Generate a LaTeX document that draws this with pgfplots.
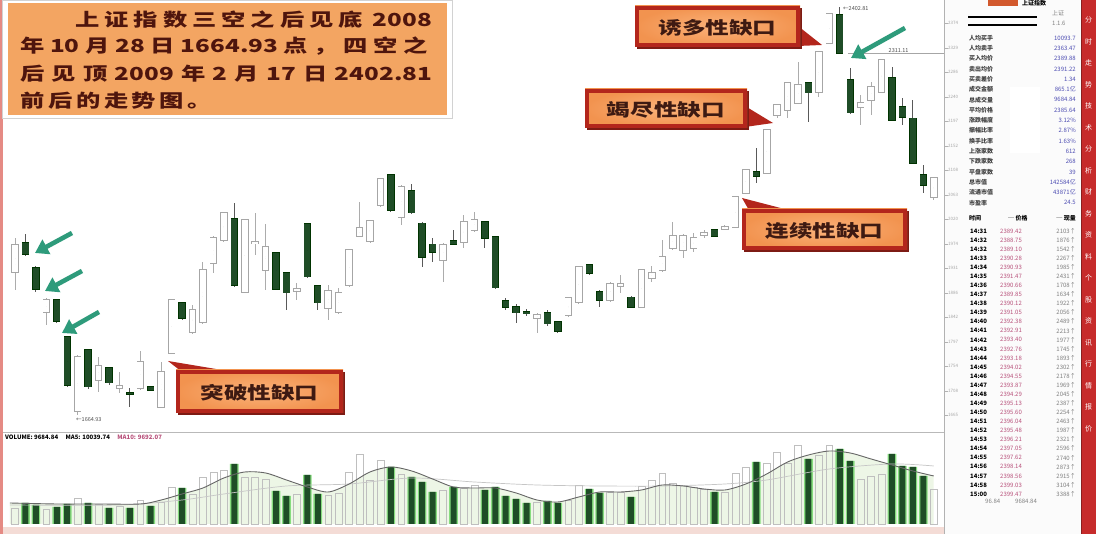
\documentclass[border=0pt]{standalone}
\usepackage{pgfplots}
\pgfplotsset{compat=1.18}
\usepackage{pgfplotstable}
\usepackage{fontspec}
\usepackage{graphicx}
\usetikzlibrary{arrows.meta}
\setmainfont{Liberation Sans}
\newfontfamily\cjk{Noto Sans CJK SC}
\newfontfamily\cjkwide{Noto Sans CJK SC}[FakeStretch=1.35]

\definecolor{boxorange}{HTML}{F3A562}
\definecolor{boxtext}{HTML}{4E150D}
\definecolor{callin}{HTML}{FBB27A}
\definecolor{callout}{HTML}{F2934F}
\definecolor{callborder}{HTML}{B3261C}
\definecolor{calltext}{HTML}{3E1A12}
\definecolor{dkgreen}{HTML}{1F4D27}
\definecolor{arrowgreen}{HTML}{2E9B7B}
\definecolor{volglow}{HTML}{86DD7E}
\definecolor{volpale}{HTML}{EDF6E6}
\definecolor{panelred}{HTML}{C62B2B}
\definecolor{pinkstrip}{HTML}{F4DCD6}
\definecolor{leftred}{HTML}{E58A84}
\definecolor{pricepink}{HTML}{B8507A}

% daily candles: x = trading day index, o h l c = open high low close
\pgfplotstableread{
x o h l c
0 1924 1985 1891 1973
3 1851 1877 1828 1873
6 1672 1773 1664.93 1770
8 1728 1770 1707 1754
10 1714 1743 1705 1717
12 1714 1781 1710 1761
14 1679 1761 1678 1743
15 1777 1875 1775 1873
17 1815 1864 1812 1855
18 1833 1942 1830 1927
19 1940 1989 1922 1985
20 1982 2032 1978 2031
22 1888 2020 1886 2018
23 1976 2031 1954 1978
24 1927 2011 1891 1969
27 1889 1904 1873 1893
30 1859 1900 1837 1889
31 1851 1895 1848 1886
32 1900 1965 1897 1964
33 1989 2050 1987 2003
34 1980 2018 1976 2016
35 2045 2094 2041 2092
37 2023 2081 2009 2078
41 1945 1976 1906 1973
43 1978 2027 1967 2014
44 2000 2032 1996 2018
50 1840 1850 1813 1846
53 1846 1878 1842 1877
54 1869 1935 1866 1933
57 1873 1906 1869 1902
58 1898 1918 1886 1902
60 1860 1929 1859 1927
61 1913 1935 1906 1922
62 1927 1982 1924 1951
63 1967 2014 1964 1989
64 1964 1992 1949 1989
65 1967 1994 1960 1985
66 1991 2000 1985 1994
68 2002 2009 2000 2005
69 2005 2061 2003 2059
70 2067 2110 2065 2108
72 2103 2183 2101 2181
73 2208 2228 2202 2226
74 2217 2268 2202 2266
75 2230 2304 2228 2262
77 2249 2324 2240 2322
78 2338 2393 2336 2391
81 2222 2244 2190 2230
82 2235 2268 2208 2259
83 2249 2309 2248 2307
88 2059 2096 2054 2094
}\upcandles

\pgfplotstableread{
x o h l c
1 1976 1992 1953 1956
2 1931 1935 1888 1893
4 1873 1875 1831 1835
5 1806 1808 1716 1719
7 1783 1784 1712 1716
9 1750 1752 1719 1723
11 1705 1714 1679 1703
13 1716 1717 1708 1710
16 1868 1869 1837 1840
21 2020 2049 1897 1900
25 1958 1960 1891 1893
26 1922 1924 1855 1886
28 2011 2012 1913 1915
29 1898 1900 1855 1868
36 2099 2101 2032 2036
38 2070 2083 2029 2031
39 2012 2014 1933 1951
40 1974 1985 1942 1960
42 1980 2000 1973 1974
45 2014 2016 1967 1985
46 1987 1989 1893 1895
47 1871 1877 1855 1860
48 1860 1866 1831 1850
49 1851 1857 1844 1848
51 1850 1855 1826 1830
52 1833 1835 1813 1817
55 1936 1938 1918 1922
56 1888 1891 1860 1873
59 1878 1880 1859 1860
67 2000 2002 1987 1989
71 2105 2148 2085 2097
76 2266 2268 2195 2248
79 2389 2402.81 2318 2320
80 2271 2293 2210 2212
84 2275 2295 2197 2199
85 2222 2239 2190 2204
86 2202 2235 2119 2121
87 2099 2117 2067 2081
}\dncandles

\pgfplotstableread{
x v
0 16
3 15
6 26
8 20
10 18
12 24
14 22
15 37
17 30
18 47
19 52
20 54
22 47
23 47
24 45
27 30
30 29
31 31
32 52
33 70
34 44
35 64
37 50
41 34
43 36
44 39
50 22
53 24
54 39
57 32
58 32
60 38
61 44
62 51
63 41
64 39
65 37
66 35
68 32
69 51
70 57
72 61
73 72
74 61
75 79
77 69
78 79
81 45
82 48
83 50
88 35
}\upvol

\pgfplotstableread{
x v
1 21
2 19
4 17
5 20
7 21
9 16
11 16
13 18
16 36
21 60
25 33
26 28
28 49
29 30
36 57
38 47
39 42
40 32
42 37
45 34
46 37
47 28
48 25
49 21
51 23
52 21
55 35
56 31
59 27
67 32
71 62
76 65
79 75
80 63
84 70
85 58
86 57
87 48
}\dnvol

\pgfplotstableread{
x v
-0.5 21
4 20
8 20
12 20
14 24
16 30
18 36
20 46
22 52
24 51
26 44
28 37
30 32
32 40
34 52
36 57
38 53
40 45
42 37
44 36
46 36
48 31
50 24
52 22
54 27
56 32
58 32
60 34
62 39
64 38
66 35
68 34
70 40
72 50
74 62
76 69
78 73
80 71
82 65
84 59
86 53
88 48
}\mafive

\pgfplotstableread{
x v
-0.5 19
10 19
16 24
20 30
26 38
32 40
38 46
44 42
50 39
56 38
62 38
68 40
72 44
78 55
84 60
88 58
}\maten

\newcommand{\tinyf}{\cjk\fontsize{6}{7}\selectfont}
\newcommand{\boxf}{\cjkwide\bfseries\fontsize{18}{19}\selectfont}
\newcommand{\callf}{\cjkwide\bfseries\fontsize{17.5}{18}\selectfont}

\pgfplotsset{candle/.style={only marks, mark=*, mark size=0pt, mark options={draw=none, fill=none},
  error bars/.cd, y dir=both, y explicit, error mark=none}}

\begin{document}
\begin{tikzpicture}
\useasboundingbox (0pt,0pt) rectangle (1096pt,534pt);
\fill[white] (0pt,0pt) rectangle (1096pt,534pt);

% ---------- background decorations (image coordinates) ----------
\begin{scope}[x=1pt,y=-1pt,yshift=534pt]
  \fill[pinkstrip] (0,527) rectangle (966,534);
  \fill[leftred] (0,0) rectangle (3,534);
  \fill[gray!3] (944,0) rectangle (1081,534);
  \fill[white] (1010,87) rectangle (1040,153);
  \draw[gray!60, line width=0.6pt] (944,0) -- (944,534);
  \draw[gray!55, line width=0.8pt] (3,432) -- (944,432);
  % right-axis ticks
  \foreach \yy/\t in {23/2374,48/2329,72/2286,97/2240,121/2197,146/2152,170/2108,195/2063,219/2020,244/1974,268/1931,293/1886,317/1842,342/1797,366/1754,391/1708,415/1665}{
    \draw[gray!60] (944,\yy) -- (948,\yy);
    \node[anchor=west, inner sep=0, text=gray!70] at (948,\yy) {\tinyf\fontsize{4.5}{5}\selectfont \t};
  }
  % red side strip
  \fill[panelred] (1081,0) rectangle (1096,534);
  \draw[panelred!70!black, line width=0.8pt] (1081,0) -- (1081,534);
  \foreach \ch [count=\k from 0] in {分,时,走,势,技,术,分,析,财,务,资,料,个,股,资,讯,行,情,报,价}{
    \node[text=white, inner sep=0] at (1088.5,{20+\k*21.5}) {\tinyf\fontsize{7}{8}\selectfont \ch};
  }
  % panel header
  \fill[brown!70!red] (988,0) rectangle (1018,6);
  \node[anchor=west, inner sep=0] at (1022,3.5) {\tinyf\bfseries 上证指数};
  \draw[black, line width=1.6pt] (968,17) -- (1037,17);
  \draw[black, line width=1.6pt] (968,25) -- (1037,25);
  \node[anchor=west, inner sep=0, text=gray] at (1052,13) {\tinyf 上证};
  \node[anchor=west, inner sep=0, text=gray] at (1052,23) {\tinyf 1.1.6};
  % upper list
  \foreach \lab/\val [count=\k from 0] in {人均买手/10093.7,人均卖手/2363.47,买入均价/2389.88,卖出均价/2391.22,买卖差价/1.34,成交金额/865.1亿,总成交量/9684.84,平均价格/2385.64,涨跌幅度/3.12\%,振幅比率/2.87\%,换手比率/1.63\%,上涨家数/612,下跌家数/268,平盘家数/39,总市值/142584亿,流通市值/43871亿,市盈率/24.5}{
    \node[anchor=west, inner sep=0, text=black!75] at (969,{38+\k*10.3}) {\tinyf\bfseries \lab};
    \node[anchor=east, inner sep=0, text=blue!40!gray] at (1076,{38+\k*10.3}) {\tinyf \val};
  }
  \node[anchor=west, inner sep=0] at (969,218) {\tinyf\bfseries 时间};
  \node[anchor=west, inner sep=0] at (1008,218) {\tinyf\bfseries ─ 价格};
  \node[anchor=east, inner sep=0] at (1076,218) {\tinyf\bfseries ─ 现量};
  % tick list
  \foreach \tm/\pr/\vv [count=\k from 0] in {14:31/2389.42/2103,14:32/2388.75/1876,14:32/2389.10/1542,14:33/2390.28/2267,14:34/2390.93/1985,14:35/2391.47/2431,14:36/2390.66/1708,14:37/2389.85/1634,14:38/2390.12/1922,14:39/2391.05/2056,14:40/2392.38/2489,14:41/2392.91/2213,14:42/2393.40/1977,14:43/2392.76/1745,14:44/2393.18/1893,14:45/2394.02/2302,14:46/2394.55/2178,14:47/2393.87/1969,14:48/2394.29/2045,14:49/2395.13/2387,14:50/2395.60/2254,14:51/2396.04/2463,14:52/2395.48/1987,14:53/2396.21/2321,14:54/2397.05/2596,14:55/2397.62/2740,14:56/2398.14/2873,14:57/2398.56/2915,14:58/2399.03/3104,15:00/2399.47/3388}{
    \node[anchor=west, inner sep=0, text=black] at (970,{231+\k*9.07}) {\tinyf\bfseries \tm};
    \node[anchor=west, inner sep=0, text=pricepink] at (1000,{231+\k*9.07}) {\tinyf \pr};
    \node[anchor=east, inner sep=0, text=gray] at (1076,{231+\k*9.07}) {\tinyf \vv↑};
  }
  \node[anchor=west, inner sep=0, text=gray] at (985,501) {\tinyf 96.84};
  \node[anchor=west, inner sep=0, text=gray] at (1015,501) {\tinyf 9684.84};
\end{scope}

% ---------------- price panel ----------------
\begin{axis}[at={(5pt,102pt)}, anchor=south west, scale only axis,
  width=935pt, height=432pt, xmin=-0.96, xmax=88.6, ymin=1634, ymax=2416,
  axis lines=none]
  % wicks
  \addplot[candle, error bar style={line width=0.9pt, draw=gray!65}]
    table[x=x, y expr={(\thisrow{h}+\thisrow{l})/2}, y error expr={(\thisrow{h}-\thisrow{l})/2}] {\upcandles};
  \addplot[candle, error bar style={line width=0.9pt, draw=black!65}]
    table[x=x, y expr={(\thisrow{h}+\thisrow{l})/2}, y error expr={(\thisrow{h}-\thisrow{l})/2}] {\dncandles};
  % hollow (rising) bodies
  \addplot[candle, error bar style={line width=7.6pt, draw=gray!70}]
    table[x=x, y expr={(\thisrow{o}+\thisrow{c})/2}, y error expr={abs(\thisrow{c}-\thisrow{o})/2+1.5}] {\upcandles};
  \addplot[candle, error bar style={line width=5.8pt, draw=white}]
    table[x=x, y expr={(\thisrow{o}+\thisrow{c})/2}, y error expr={abs(\thisrow{c}-\thisrow{o})/2}] {\upcandles};
  % filled (falling) bodies
  \addplot[candle, error bar style={line width=7.4pt, draw=black!80!green}]
    table[x=x, y expr={(\thisrow{o}+\thisrow{c})/2}, y error expr={abs(\thisrow{c}-\thisrow{o})/2+1.2}] {\dncandles};
  \addplot[candle, error bar style={line width=6.2pt, draw=dkgreen}]
    table[x=x, y expr={(\thisrow{o}+\thisrow{c})/2}, y error expr={max(abs(\thisrow{c}-\thisrow{o})/2,0.6)}] {\dncandles};
\end{axis}

% ---------------- volume panel ----------------
\begin{axis}[at={(5pt,8pt)}, anchor=south west, scale only axis,
  width=935pt, height=94pt, xmin=-0.96, xmax=88.6, ymin=-2, ymax=92,
  axis lines=none]
  \addplot[sharp plot, smooth, fill=volpale, draw=none] table[x=x, y=v] {\mafive} \closedcycle;
  \addplot[ybar, bar shift=0pt, bar width=6.8pt, draw=gray!50, line width=0.5pt, fill=none] table[x=x, y=v] {\upvol};
  \addplot[ybar, bar shift=0pt, bar width=8.6pt, draw=none, fill=volglow] table[x=x, y=v] {\dnvol};
  \addplot[ybar, bar shift=0pt, bar width=6pt, draw=none, fill=dkgreen] table[x=x, y=v] {\dnvol};
  \addplot[smooth, draw=gray!45, line width=0.7pt] table[x=x, y=v] {\maten};
  \addplot[smooth, draw=gray!80!black, line width=0.9pt] table[x=x, y=v] {\mafive};
\end{axis}

% ---------------- overlays (image coordinates) ----------------
\begin{scope}[x=1pt,y=-1pt,yshift=534pt]
  % volume header
  \node[anchor=west, inner sep=0] at (5,437) {\tinyf\bfseries VOLUME: 9684.84 \quad MA5: 10039.74 \quad \textcolor{pricepink}{MA10: 9692.07}};
  % price labels
  \node[anchor=west, inner sep=0, text=black!70] at (76,420) {\tinyf\fontsize{5.5}{6}\selectfont ←1664.93};
  \node[anchor=west, inner sep=0, text=black!70] at (843,9) {\tinyf\fontsize{5.5}{6}\selectfont ←2402.81};
  \draw[gray!70, line width=0.6pt] (848,53) -- (944,53);
  \node[anchor=south west, inner sep=0.5pt, text=black!70] at (888,53) {\tinyf\fontsize{5.5}{6}\selectfont 2311.11};

  % title box
  \draw[gray!35, line width=0.8pt] (2,0) rectangle (452,118);
  \fill[boxorange] (8,3) rectangle (447,115);
  \begin{scope}[text=boxtext]
  \node[anchor=base west, inner sep=0] at (75,27) {\boxf\makebox[357pt][s]{上\hfill 证\hfill 指\hfill 数\hfill 三\hfill 空\hfill 之\hfill 后\hfill 见\hfill 底\hfill\hspace{5pt}2008}};
  \node[anchor=base west, inner sep=0] at (20,53) {\boxf\makebox[408pt][s]{年\hfill 10\hfill 月\hfill 28\hfill 日\hfill 1664.93\hfill 点\hfill ，\hfill 四\hfill 空\hfill 之}};
  \node[anchor=base west, inner sep=0] at (20,81) {\boxf\makebox[412pt][s]{后\hfill 见\hfill 顶\hfill 2009\hfill 年\hfill 2\hfill 月\hfill 17\hfill 日\hfill 2402.81}};
  \node[anchor=base west, inner sep=0] at (20,108) {\boxf\makebox[192pt][s]{前\hfill 后\hfill 的\hfill 走\hfill 势\hfill 图\hfill 。}};
  \end{scope}

  % callout pointers
  \fill[callborder] (168,361) -- (182,372) -- (234,372) -- cycle;
  \fill[callborder] (742,198) -- (750,212) -- (796,212) -- cycle;
  \fill[callborder] (773,123) -- (745,106) -- (745,127) -- cycle;
  \fill[callborder] (822,45) -- (798,26) -- (798,46) -- cycle;
  % callout boxes
  \foreach \xa/\ya/\xb/\yb/\txt in {176/370/343/413/突破性缺口, 742/209/907/250/连续性缺口, 585/89/747/128/竭尽性缺口, 635/6/800/47/诱多性缺口}{
    \fill[callborder!70!black] (\xa+2,\ya+2) rectangle (\xb+2,\yb+2);
    \shade[inner color=callin, outer color=callout] (\xa,\ya) rectangle (\xb,\yb);
    \draw[callborder, line width=3.6pt] (\xa+1.8,\ya+1.8) rectangle (\xb-1.8,\yb-1.8);
    \node[text=calltext, inner sep=0] at ({(\xa+\xb)/2},{(\ya+\yb)/2+1}) {\callf \txt};
  }

  % green arrows
  \begin{scope}[arrowgreen, line width=4.6pt, -{Triangle[width=16pt,length=13pt]}]
    \draw (72,233) -- (35,253);
    \draw (82,271) -- (45,291);
    \draw (99,312) -- (62,333);
    \draw (905,28) -- (851,58);
  \end{scope}
\end{scope}
\end{tikzpicture}
\end{document}
